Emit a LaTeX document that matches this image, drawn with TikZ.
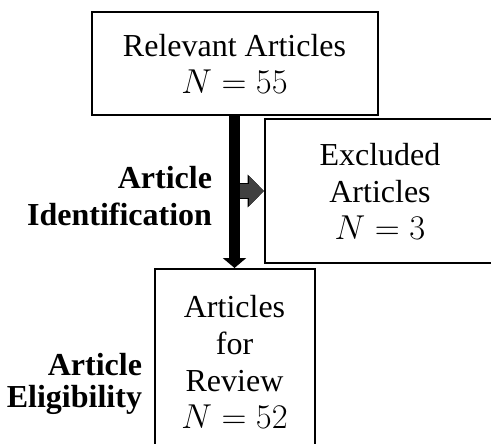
\documentclass[tikz,border=0pt]{standalone}
\usepackage{fontspec}
\setmainfont{Liberation Serif}
\usetikzlibrary{arrows.meta}

\begin{document}
\begin{tikzpicture}[x=0.5pt,y=-0.5pt,line width=1pt,
  box/.style={draw,align=center,inner sep=0pt,font=\fontsize{16}{18.5}\selectfont},
  stage/.style={align=right,inner sep=0pt,font=\fontsize{16}{18.5}\selectfont\bfseries},
  flow/.style={line width=5.5pt,-{Triangle[width=11.5pt,length=5pt]}},
  drop/.style={line width=7pt,draw=black!75,-{Triangle[width=14.5pt,length=7.5pt]},
    preaction={draw=black,line width=8pt,-{Triangle[width=16pt,length=8.2pt]}}}]
 \useasboundingbox (0,0) rectangle (491,443);
 \clip (0,0) rectangle (491,443);
 \node[box,minimum width=143pt,minimum height=51.5pt] (rel) at (234.5,64) {Relevant Articles\\ $N=55$};
 \node[box,minimum width=115pt,minimum height=72pt] (excl) at (380,191) {Excluded\\ Articles\\ $N=3$};
 \node[box,minimum width=80pt,minimum height=93pt] (rev) at (234.5,362) {Articles\\ for\\ Review\\ $N=52$};
 \node[stage,anchor=east] (ident) at (213,196) {Article\\ Identification};
 \node[stage,anchor=east] (elig) at (143,384) {Article\\[-2.5pt] Eligibility};
 \draw[drop] (rel.south |- excl.west) -- (excl.west);
 \draw[flow] (rel.south) -- (rel.south |- rev.north);
\end{tikzpicture}
\end{document}
